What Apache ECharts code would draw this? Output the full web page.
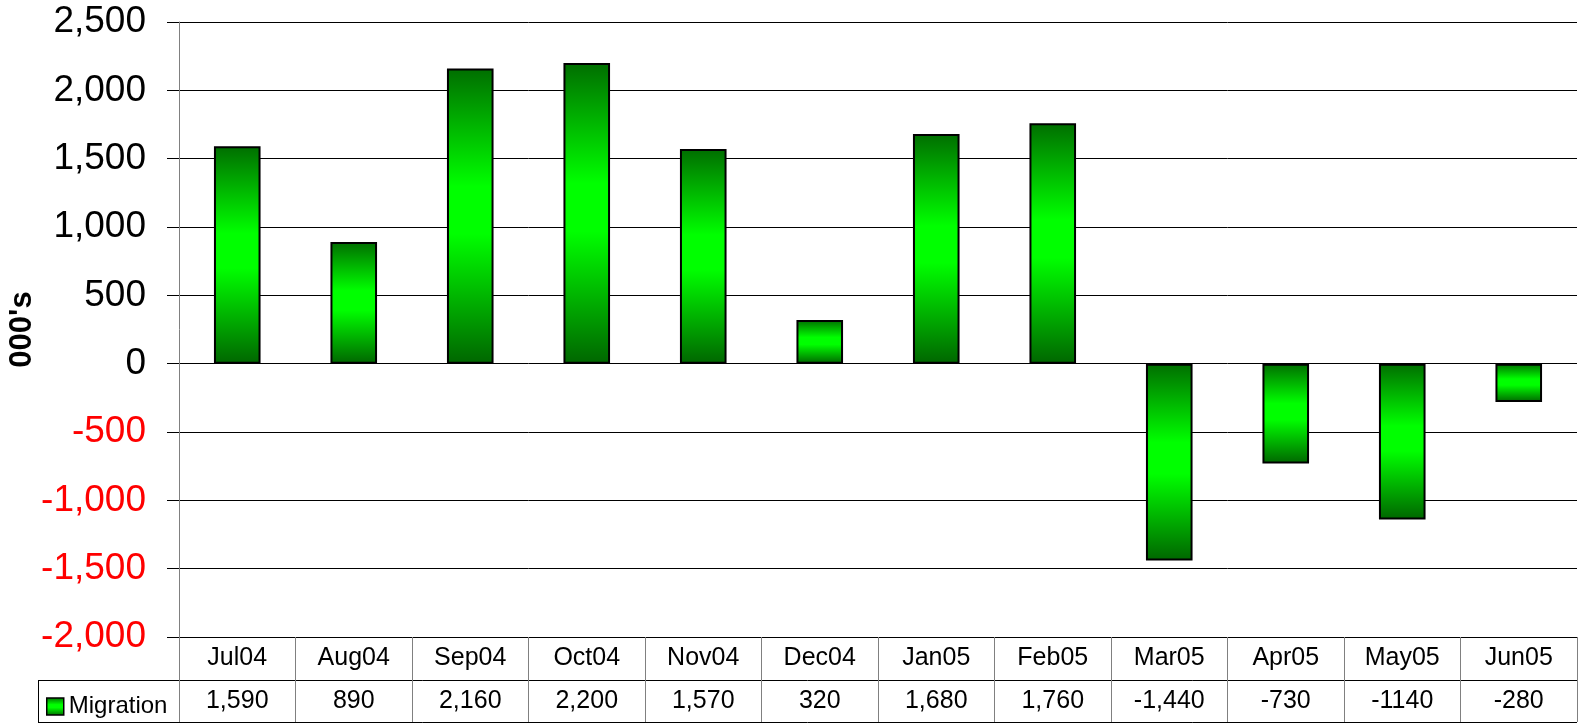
<!DOCTYPE html>
<html>
<head>
<meta charset="utf-8">
<title>Migration</title>
<script src="https://cdn.jsdelivr.net/npm/echarts@6/dist/echarts.min.js"></script>
<style>
  html, body { margin: 0; padding: 0; background: #fff; }
  #chart { width: 1580px; height: 723px; }
</style>
</head>
<body>
<div id="chart"></div>
<script>
// Monthly migration, thousands
const categories = ['Jul04', 'Aug04', 'Sep04', 'Oct04', 'Nov04', 'Dec04', 'Jan05', 'Feb05', 'Mar05', 'Apr05', 'May05', 'Jun05'];
const migration = [1590, 890, 2160, 2200, 1570, 320, 1680, 1760, -1440, -730, -1140, -280];
// Text shown in the data table row
const migrationText = ['1,590', '890', '2,160', '2,200', '1,570', '320', '1,680', '1,760', '-1,440', '-730', '-1140', '-280'];
const yTicks = { min: -2000, max: 2500, step: 500 };

const FONT = '"Liberation Sans", Arial, sans-serif';
const G = { left: 179, right: 3, top: 22, bottom: 86 };   // plot area
const W = 1580, H = 723;
const axisY = H - G.bottom;          // bottom of plot / top of table
const rowMid = axisY + 43;           // line between header and value rows
const tableBottom = H - 1;
const legendCellLeft = 38;

const chart = echarts.init(document.getElementById('chart'), null, { renderer: 'canvas' });

const barGradient = new echarts.graphic.LinearGradient(0, 0, 0, 1, [
  { offset: 0, color: '#006e00' },
  { offset: 0.40, color: '#00ff00' },
  { offset: 0.56, color: '#00ff00' },
  { offset: 1, color: '#006600' }
]);

const fmt = v => v.toLocaleString('en-US');

chart.setOption({
  animation: false,
  backgroundColor: '#fff',
  textStyle: { fontFamily: FONT },
  grid: {
    left: G.left, right: G.right, top: G.top, bottom: G.bottom,
    containLabel: false,
    outerBoundsMode: 'none'
  },
  legend: {
    left: 46,
    top: 694,
    padding: 0,
    itemWidth: 17,
    itemHeight: 17,
    itemGap: 0,
    icon: 'rect',
    textStyle: { fontFamily: FONT, fontSize: 24, color: '#000', lineHeight: 25, padding: [0, 0, 0, 0] },
    itemStyle: { color: barGradient, borderColor: '#000', borderWidth: 1.5 },
    data: ['Migration']
  },
  xAxis: {
    type: 'category',
    data: categories,
    position: 'bottom',
    boundaryGap: true,
    axisLine: { onZero: false, lineStyle: { color: '#000', width: 1 } },
    axisTick: { show: true, length: 85, alignWithLabel: false, lineStyle: { color: '#808080', width: 1 } },
    splitLine: { show: false },
    axisLabel: {
      interval: 0,
      margin: 0,
      formatter: (val, idx) => '{a|' + val + '}\n{b|' + migrationText[idx] + '}',
      rich: {
        a: { fontFamily: FONT, fontSize: 25, color: '#000', lineHeight: 42 },
        b: { fontFamily: FONT, fontSize: 25, color: '#000', lineHeight: 44 }
      }
    }
  },
  yAxis: {
    type: 'value',
    min: yTicks.min,
    max: yTicks.max,
    interval: yTicks.step,
    name: "000's",
    nameLocation: 'middle',
    nameRotate: 90,
    nameGap: 141,
    nameMoveOverlap: false,
    nameTextStyle: { fontFamily: FONT, fontSize: 31, fontWeight: 'bold', color: '#000' },
    axisLine: { show: true, lineStyle: { color: '#808080', width: 1 } },
    axisTick: { show: true, length: 12, inside: false, lineStyle: { color: '#000', width: 1 } },
    splitLine: { show: true, lineStyle: { color: '#000', width: 1 } },
    axisLabel: {
      margin: 33,
      fontFamily: FONT,
      fontSize: 37,
      formatter: v => fmt(v),
      color: v => (Number(v) < 0 ? '#ff0000' : '#000000')
    }
  },
  series: [{
    name: 'Migration',
    type: 'bar',
    data: migration,
    barWidth: '40%',
    itemStyle: { color: barGradient, borderColor: '#000', borderWidth: 2 }
  }],
  graphic: [
    // data table frame around the legend cell and value row
    { type: 'line', shape: { x1: legendCellLeft, y1: rowMid + 0.5, x2: W - G.right, y2: rowMid + 0.5 }, style: { stroke: '#000', lineWidth: 1 } },
    { type: 'line', shape: { x1: legendCellLeft, y1: tableBottom + 0.5, x2: W - G.right, y2: tableBottom + 0.5 }, style: { stroke: '#000', lineWidth: 1 } },
    { type: 'line', shape: { x1: legendCellLeft + 0.5, y1: rowMid, x2: legendCellLeft + 0.5, y2: tableBottom + 1 }, style: { stroke: '#000', lineWidth: 1 } }
  ]
});
</script>
</body>
</html>
